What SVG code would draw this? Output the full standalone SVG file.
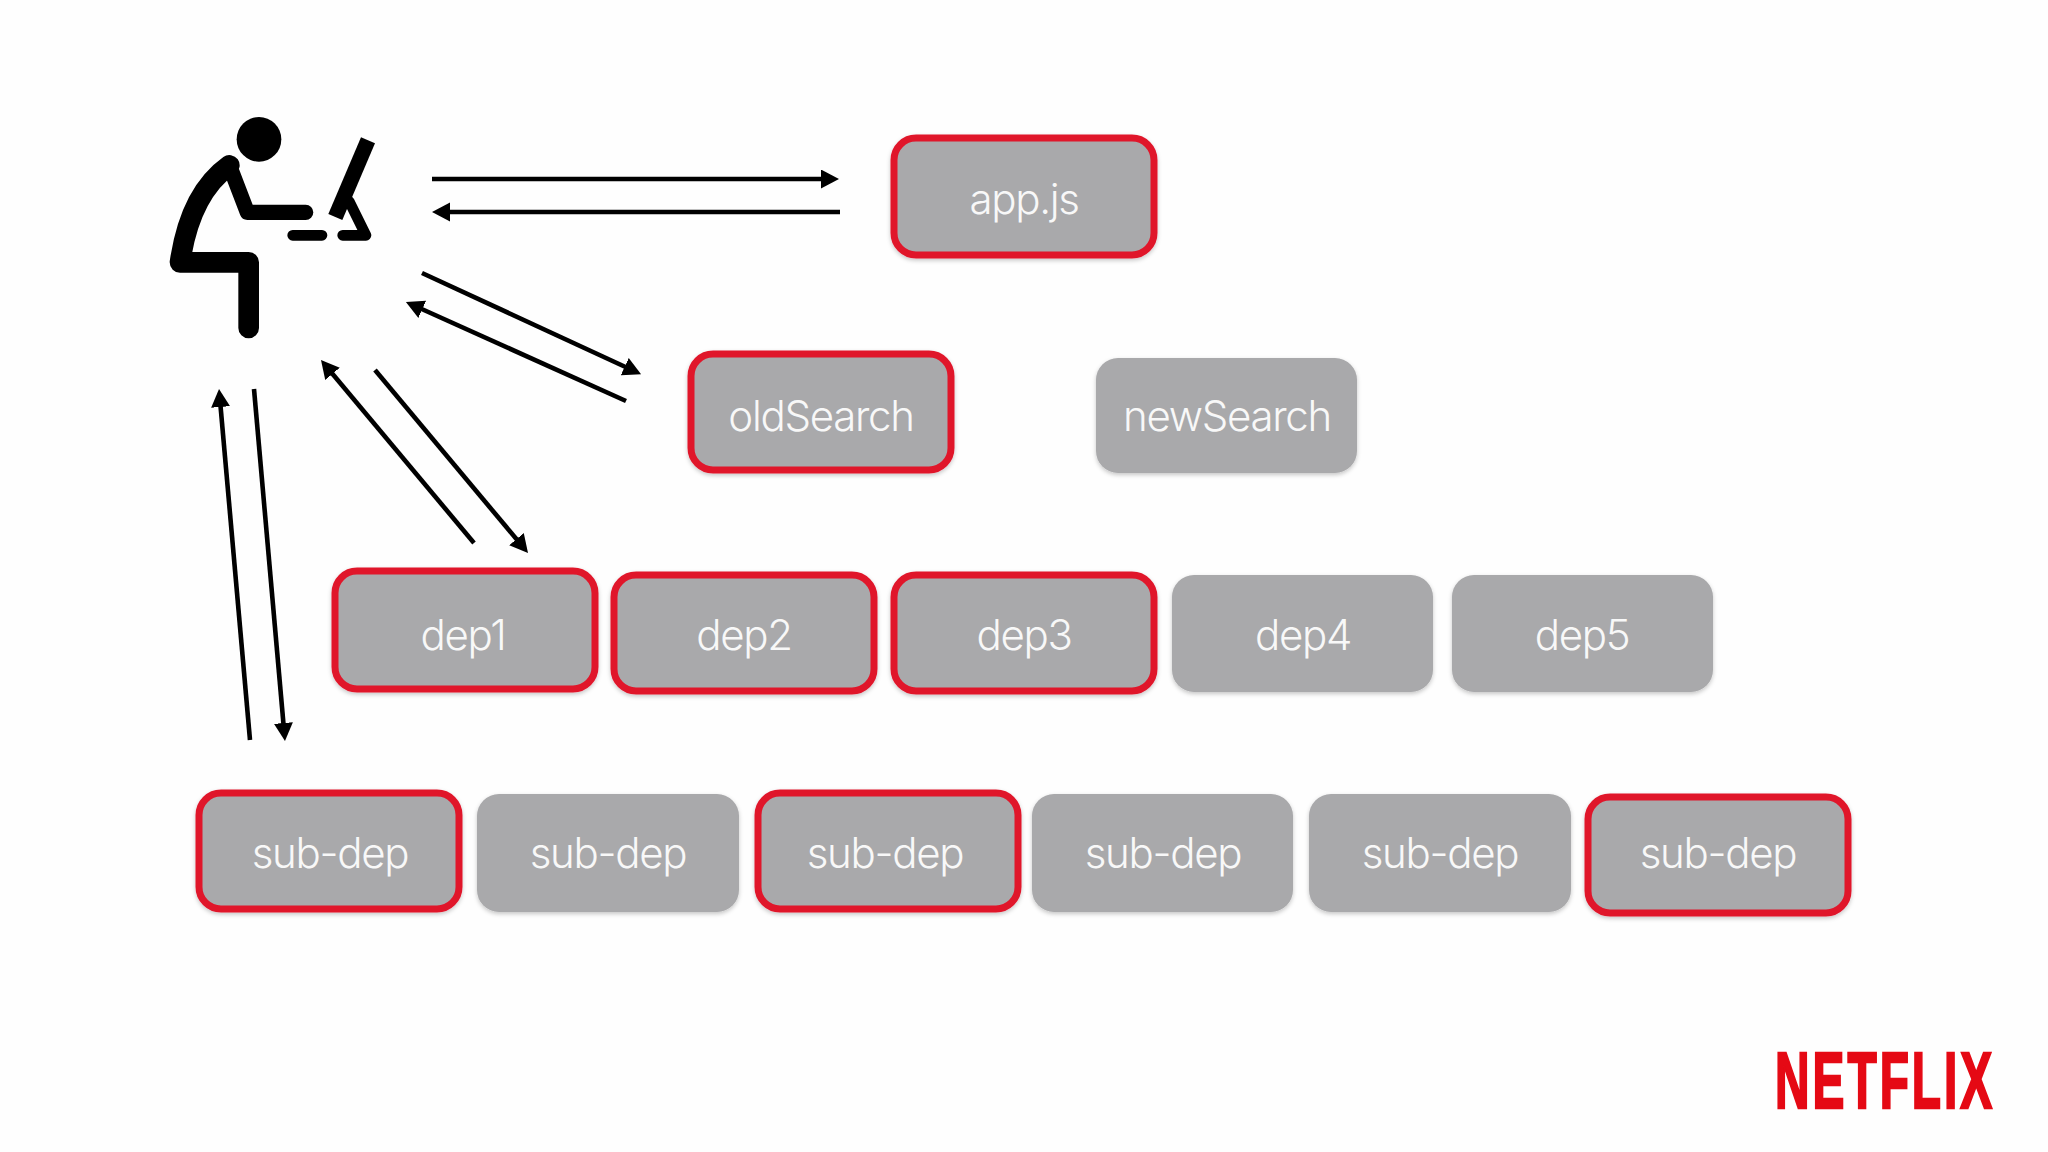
<svg xmlns="http://www.w3.org/2000/svg" width="2048" height="1152" viewBox="0 0 2048 1152">
<style>
.box{fill:#a9a9ab;filter:url(#sh)}
.sel{fill:#a9a9ab;stroke:#e0162b;stroke-width:7;filter:url(#sh)}
.lbl{font-family:"Inter","Helvetica Neue","Liberation Sans",sans-serif;font-weight:300;font-size:42px;letter-spacing:-1.3px;fill:#f8f8f8;text-anchor:middle}
.arr{stroke:#000;stroke-width:4.6;fill:none;marker-end:url(#head)}
.b{fill:none;stroke:#000;stroke-linecap:round;stroke-linejoin:round}
</style>
<defs>
<filter id="sh" x="-5%" y="-10%" width="110%" height="125%"><feDropShadow dx="0" dy="2" stdDeviation="2" flood-color="#000" flood-opacity="0.22"/></filter>
<marker id="head" markerUnits="userSpaceOnUse" markerWidth="20" markerHeight="20" refX="8" refY="9.5" orient="auto"><path d="M0 0L18 9.5L0 19z" fill="#000"/></marker>
</defs>
<rect width="2048" height="1152" fill="#fefefe"/>
<g id="connectors">
<line class="arr" x1="432" y1="179" x2="829" y2="179"/>
<line class="arr" x1="840" y1="212" x2="442" y2="212"/>
<line class="arr" x1="422" y1="273" x2="632" y2="370"/>
<line class="arr" x1="626" y1="401" x2="415" y2="306"/>
<line class="arr" x1="474" y1="543" x2="327.4" y2="367.7"/>
<line class="arr" x1="375" y1="370" x2="521.6" y2="545.3"/>
<line class="arr" x1="250" y1="740" x2="219.9" y2="399"/>
<line class="arr" x1="254" y1="389" x2="284.1" y2="731"/>
</g>
<g id="person" transform="translate(140 90) scale(.33333)">
<circle cx="357" cy="148" r="67"/>
<path class="b" stroke-width="62" d="M326 714V517H120Q150 310 268 226"/>
<path class="b" stroke-width="46" d="M268 226L322 367H497"/>
<path class="b" stroke-width="32" d="M458 436H546M608 436H678L628 335"/>
<path d="M663 142L705 160L607 390L565 372z"/>
</g>
<g id="appjs"><rect class="sel" x="894" y="138" width="260" height="117" rx="22"/><text class="lbl" x="1024" y="214">app.js</text></g>
<g id="oldSearch"><rect class="sel" x="691" y="354" width="260" height="116" rx="22"/><text class="lbl" x="821" y="431">oldSearch</text></g>
<g id="newSearch"><rect class="box" x="1096" y="358" width="261" height="115" rx="22"/><text class="lbl" x="1227" y="431">newSearch</text></g>
<g id="dep1"><rect class="sel" x="335" y="571" width="260" height="118" rx="22"/><text class="lbl" x="463" y="650">dep1</text></g>
<g id="dep2"><rect class="sel" x="614" y="575" width="260" height="116" rx="22"/><text class="lbl" x="744" y="650">dep2</text></g>
<g id="dep3"><rect class="sel" x="894" y="575" width="260" height="116" rx="22"/><text class="lbl" x="1024" y="650">dep3</text></g>
<g id="dep4"><rect class="box" x="1172" y="575" width="261" height="117" rx="22"/><text class="lbl" x="1303" y="650">dep4</text></g>
<g id="dep5"><rect class="box" x="1452" y="575" width="261" height="117" rx="22"/><text class="lbl" x="1582" y="650">dep5</text></g>
<g id="sub1"><rect class="sel" x="199" y="793" width="260" height="116" rx="22"/><text class="lbl" x="330" y="868">sub-dep</text></g>
<g id="sub2"><rect class="box" x="477" y="794" width="262" height="118" rx="22"/><text class="lbl" x="608" y="868">sub-dep</text></g>
<g id="sub3"><rect class="sel" x="758" y="793" width="260" height="116" rx="22"/><text class="lbl" x="885" y="868">sub-dep</text></g>
<g id="sub4"><rect class="box" x="1032" y="794" width="261" height="118" rx="22"/><text class="lbl" x="1163" y="868">sub-dep</text></g>
<g id="sub5"><rect class="box" x="1309" y="794" width="262" height="118" rx="22"/><text class="lbl" x="1440" y="868">sub-dep</text></g>
<g id="sub6"><rect class="sel" x="1588" y="797" width="260" height="116" rx="22"/><text class="lbl" x="1718" y="868">sub-dep</text></g>
<g id="logo"><text transform="translate(1775 1108) scale(.605 1)" font-family="'Liberation Sans',sans-serif" font-weight="700" font-size="79" letter-spacing="5" fill="#e50914" stroke="#e50914" stroke-width="2.5">NETFLIX</text></g>
</svg>
